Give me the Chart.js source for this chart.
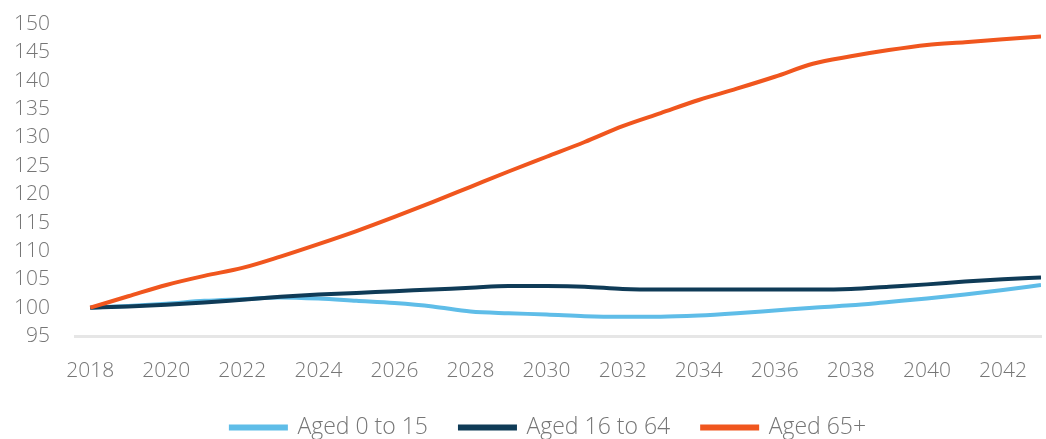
<!DOCTYPE html>
<html>
<head>
<meta charset="utf-8">
<script src="https://cdn.jsdelivr.net/npm/chart.js@4.4.1/dist/chart.umd.min.js"></script>
<style>
  html, body { margin: 0; padding: 0; background: #fff; }
  #wrap { width: 1046px; height: 439px; }
</style>
</head>
<body>
<div id="wrap"><canvas id="popChart"></canvas></div>
<script>
// Population index, 2018 = 100
const years = [2018, 2019, 2020, 2021, 2022, 2023, 2024, 2025, 2026, 2027, 2028, 2029, 2030,
               2031, 2032, 2033, 2034, 2035, 2036, 2037, 2038, 2039, 2040, 2041, 2042, 2043];
const aged0to15 = [100, 100.3, 100.7, 101.2, 101.5, 101.8, 101.6, 101.2, 100.8, 100.2, 99.3, 99.0, 98.8,
                   98.5, 98.4, 98.4, 98.6, 99.0, 99.5, 100.0, 100.4, 101.0, 101.6, 102.3, 103.1, 104.0];
const aged16to64 = [100, 100.2, 100.5, 100.9, 101.4, 101.9, 102.3, 102.6, 102.9, 103.2, 103.5, 103.8, 103.8,
                    103.7, 103.3, 103.2, 103.2, 103.2, 103.2, 103.2, 103.3, 103.7, 104.1, 104.6, 105.0, 105.3];
const aged65plus = [100, 102.0, 104.0, 105.6, 107.0, 109.0, 111.2, 113.5, 116.0, 118.6, 121.3, 124.0, 126.6,
                    129.2, 132.0, 134.3, 136.6, 138.6, 140.7, 143.0, 144.3, 145.4, 146.3, 146.8, 147.3, 147.8];
const yearTicks = [2018, 2020, 2022, 2024, 2026, 2028, 2030, 2032, 2034, 2036, 2038, 2040, 2042];

const toPoints = (vals) => vals.map((v, i) => ({ x: years[i], y: v }));

function series(label, vals, color, order) {
    return {
        label: label,
        data: toPoints(vals),
        borderColor: color,
        backgroundColor: color,
        borderWidth: 4,
        pointRadius: 0,
        tension: 0.3,
        cubicInterpolationMode: 'monotone',
        order: order
    };
}

const textGrey = '#767676';
const textFont = (size) => ({ family: 'Open Sans', size: size, weight: 300 });

// centre the legend under the plot area instead of the whole canvas
const legendUnderPlot = {
    id: 'legendUnderPlot',
    beforeDraw(chart) {
        if (chart.legend) {
            chart.legend.left = chart.chartArea.left - 19;
        }
    }
};

const ctx = document.getElementById('popChart').getContext('2d');
const popChart = new Chart(ctx, {
    type: 'line',
    data: {
        datasets: [
            series('Aged 0 to 15', aged0to15, '#5fbde8', 3),
            series('Aged 16 to 64', aged16to64, '#0f3b57', 2),
            series('Aged 65+', aged65plus, '#f0561e', 1)
        ]
    },
    plugins: [legendUnderPlot],
    options: {
        responsive: true,
        maintainAspectRatio: false,
        animation: false,
        layout: { padding: { left: 0, right: 5, top: 24, bottom: -10 } },
        plugins: {
            tooltip: { enabled: false },
            legend: {
                position: 'bottom',
                labels: {
                    sort: (a, b) => a.datasetIndex - b.datasetIndex,
                    boxWidth: 55,
                    boxHeight: 2,
                    padding: 32,
                    color: textGrey,
                    font: textFont(23)
                }
            }
        },
        scales: {
            x: {
                type: 'linear',
                min: 2017.6,
                max: 2043,
                afterBuildTicks: (axis) => { axis.ticks = yearTicks.map(v => ({ value: v })); },
                afterFit: (axis) => { axis.height = 48; axis.paddingLeft = 0; axis.paddingRight = 0; },
                grid: { display: false, drawTicks: false },
                border: { display: true, color: '#e6e6e6', width: 3 },
                ticks: {
                    padding: 22,
                    color: textGrey,
                    font: textFont(21),
                    callback: (v) => String(v)
                }
            },
            y: {
                min: 95,
                max: 150,
                afterFit: (axis) => { axis.width = 75; axis.paddingTop = 0; axis.paddingBottom = 0; },
                grid: { display: false, drawTicks: false },
                border: { display: false },
                ticks: {
                    stepSize: 5,
                    padding: 25,
                    color: textGrey,
                    font: textFont(21)
                }
            }
        }
    }
});
</script>
</body>
</html>
